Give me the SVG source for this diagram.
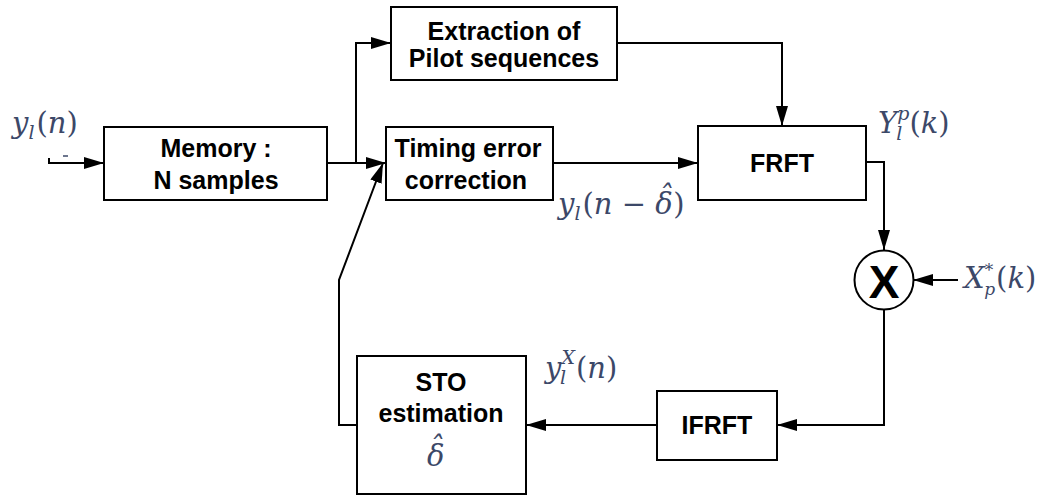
<svg xmlns="http://www.w3.org/2000/svg" width="1037" height="498" viewBox="0 0 1037 498">
<style>
.box{fill:#fff;stroke:#000;stroke-width:2}
.lbl{font-family:"Liberation Sans",Arial,sans-serif;font-weight:bold;font-size:25px;fill:#000;text-anchor:middle}
.wire{fill:none;stroke:#000;stroke-width:2}
.math{font-family:"DejaVu Serif","Liberation Serif",serif;font-size:29px;fill:#3c4868}
.it{font-style:italic}
.sm{font-size:19px}
</style>
<defs>
<marker id="arr" markerUnits="userSpaceOnUse" markerWidth="20" markerHeight="12" refX="20" refY="6" orient="auto">
<path d="M0,0 L20,6 L0,12 z" fill="#000"/>
</marker>
</defs>
<rect width="1037" height="498" fill="#fff"/>
<g id="connectors">
<path class="wire" d="M49,158 L49,163 L104,163" marker-end="url(#arr)"/>
<path class="wire" d="M327,163 L386,163" marker-end="url(#arr)"/>
<path class="wire" d="M356,163 L356,43 L391,43" marker-end="url(#arr)"/>
<path class="wire" d="M617,43 L782,43 L782,126" marker-end="url(#arr)"/>
<path class="wire" d="M553,163 L698,163" marker-end="url(#arr)"/>
<path class="wire" d="M866,162 L884,162 L884,250" marker-end="url(#arr)"/>
<path class="wire" d="M958,280 L913,280" marker-end="url(#arr)"/>
<path class="wire" d="M884,310 L884,425 L777,425" marker-end="url(#arr)"/>
<path class="wire" d="M657,425 L526,425" marker-end="url(#arr)"/>
<path class="wire" d="M357,425 L339,425 L339,280 L383,163" marker-end="url(#arr)"/>
<line x1="63" y1="156" x2="68" y2="156" stroke="#3c4868" stroke-width="1.5"/>
</g>
<g id="memory">
<rect class="box" x="104" y="127" width="223" height="73"/>
<text class="lbl" x="216" y="157">Memory :</text>
<text class="lbl" x="216" y="189">N samples</text>
</g>
<g id="extraction">
<rect class="box" x="391" y="7" width="226" height="73"/>
<text class="lbl" x="504" y="40">Extraction of</text>
<text class="lbl" x="504" y="67">Pilot sequences</text>
</g>
<g id="timing">
<rect class="box" x="386" y="127" width="167" height="73"/>
<text class="lbl" x="468" y="157">Timing error</text>
<text class="lbl" x="466" y="189">correction</text>
</g>
<g id="frft">
<rect class="box" x="698" y="126" width="168" height="74"/>
<text class="lbl" x="782" y="172">FRFT</text>
</g>
<g id="multiplier">
<circle cx="884" cy="280" r="29.5" fill="#fff" stroke="#000" stroke-width="2"/>
<text x="884" y="298" font-family="Liberation Sans,Arial,sans-serif" font-weight="bold" font-size="46" text-anchor="middle" fill="#000">X</text>
</g>
<g id="ifrft">
<rect class="box" x="657" y="391" width="120" height="69"/>
<text class="lbl" x="717" y="434">IFRFT</text>
</g>
<g id="sto">
<rect class="box" x="357" y="356" width="169" height="138"/>
<text class="lbl" x="441" y="391">STO</text>
<text class="lbl" x="441" y="422">estimation</text>
<text class="math it" x="427" y="466">δ<tspan dx="-16" dy="-9">ˆ</tspan></text>
</g>
<g id="labels">
<text class="math" x="12" y="133"><tspan class="it">y</tspan><tspan class="it sm" dy="6">l</tspan><tspan dx="2" dy="-6">(</tspan><tspan class="it">n</tspan>)</text>
<text class="math" x="878" y="133"><tspan class="it">Y</tspan><tspan class="it sm" dy="-13">p</tspan><tspan class="it sm" dx="-13" dy="20">l</tspan><tspan dx="7" dy="-7">(</tspan><tspan class="it">k</tspan>)</text>
<text class="math" x="964" y="288" font-size="25"><tspan class="it">X</tspan><tspan class="it" font-size="17" dy="-12">*</tspan><tspan class="it" font-size="17" dx="-9" dy="19">p</tspan><tspan dx="1" dy="-7">(</tspan><tspan class="it">k</tspan>)</text>
<text class="math" x="558" y="214" font-size="27"><tspan class="it">y</tspan><tspan class="it sm" dy="6">l</tspan><tspan dx="2" dy="-6">(</tspan><tspan class="it">n</tspan> − <tspan class="it">δ</tspan><tspan class="it" dx="-15" dy="-8">ˆ</tspan><tspan dx="1" dy="8">)</tspan></text>
<text class="math" x="545" y="378"><tspan class="it">y</tspan><tspan class="it sm" dy="-14">X</tspan><tspan class="it sm" dx="-15" dy="20">l</tspan><tspan dx="10" dy="-6">(</tspan><tspan class="it">n</tspan>)</text>
</g>
</svg>
